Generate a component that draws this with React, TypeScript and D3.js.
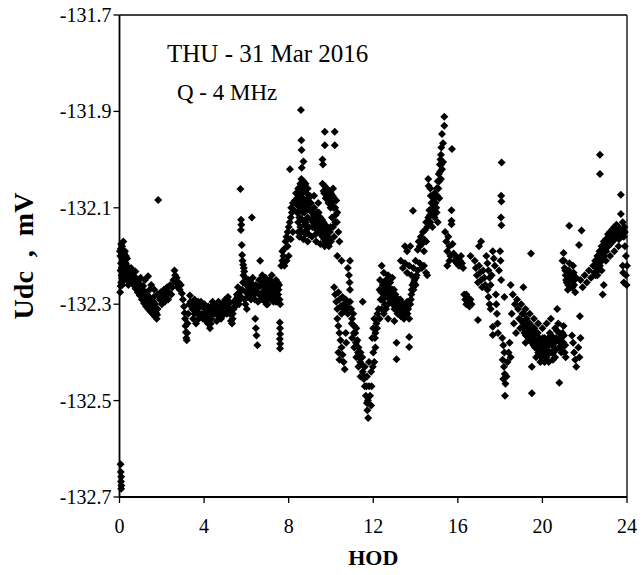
import React from 'react';
import * as d3 from 'd3';

type P = [number, number];

const xTicks = [0, 4, 8, 12, 16, 20, 24];
const yTicks = [-132.7, -132.5, -132.3, -132.1, -131.9, -131.7];
const titleText = 'THU - 31 Mar 2016';
const subtitleText = 'Q - 4 MHz';
const xLabel = 'HOD';
const yLabel = 'Udc  ,  mV';

// HOD, Udc (mV)
const midnight: P[] = [
  [0.05,-132.632],[0.06,-132.648],[0.08,-132.658],[0.07,-132.668],[0.09,-132.676],[0.08,-132.683],
  [0.03,-132.275],[0.05,-132.262],
  [0.06,-132.185],[0.08,-132.175],[0.1,-132.195],[0.12,-132.18],[0.14,-132.205],[0.16,-132.19],[0.18,-132.215],
  [0.2,-132.2],[0.22,-132.222],[0.24,-132.21],[0.26,-132.19],[0.28,-132.228],[0.3,-132.215],[0.32,-132.235],
  [0.35,-132.22],[0.38,-132.24],[0.4,-132.228],[0.43,-132.245],[0.46,-132.232],[0.5,-132.25],[0.53,-132.238],
  [0.56,-132.255],[0.1,-132.225],[0.12,-132.245],[0.15,-132.235],[0.2,-132.25],[0.08,-132.255],[0.25,-132.245],
  [0.3,-132.2],[0.18,-132.17],
  [0.04,-132.2],[0.07,-132.215],[0.1,-132.24],[0.13,-132.26],[0.16,-132.22],[0.19,-132.24],[0.22,-132.195],
  [0.27,-132.235],[0.33,-132.25],[0.36,-132.205],[0.42,-132.26],[0.48,-132.24],[0.55,-132.225],[0.05,-132.23],
  [0.02,-132.19]
];

const earlyBand: P[] = [
  [0.6,-132.235],[0.63,-132.25],[0.66,-132.26],[0.7,-132.242],[0.73,-132.255],[0.76,-132.268],[0.8,-132.248],
  [0.83,-132.262],[0.86,-132.275],[0.9,-132.255],[0.93,-132.27],[0.96,-132.282],[1.0,-132.262],[1.03,-132.278],
  [1.06,-132.29],[1.1,-132.27],[1.13,-132.285],[1.16,-132.298],[1.2,-132.275],[1.23,-132.292],[1.26,-132.305],
  [1.3,-132.28],[1.33,-132.297],[1.36,-132.31],[1.4,-132.285],[1.43,-132.3],[1.46,-132.315],[1.5,-132.29],
  [1.53,-132.305],[1.56,-132.32],[1.6,-132.295],[1.63,-132.31],[1.66,-132.325],[1.7,-132.3],[1.73,-132.318],
  [1.76,-132.33],[1.8,-132.31],
  [0.75,-132.232],[1.0,-132.245],[1.2,-132.25],[1.35,-132.242],[1.5,-132.26],[1.65,-132.27],[1.8,-132.28],
  [1.83,-132.084],
  [0.68,-132.245],[0.78,-132.258],[0.88,-132.265],[0.98,-132.272],[1.08,-132.28],[1.18,-132.288],[1.28,-132.295],
  [1.38,-132.3],[1.48,-132.305],[1.58,-132.31],[1.68,-132.315],[1.78,-132.322],[1.12,-132.262],[1.42,-132.27],
  [1.62,-132.285]
];

const predawn: P[] = [
  [1.9,-132.29],[1.95,-132.275],[2.0,-132.3],[2.05,-132.285],[2.1,-132.27],[2.15,-132.295],[2.2,-132.28],
  [2.25,-132.265],[2.3,-132.29],[2.35,-132.275],[2.4,-132.26],[2.45,-132.28],[2.5,-132.265],[2.55,-132.25],
  [2.6,-132.23],[2.63,-132.24],[2.66,-132.255],[2.7,-132.245],[2.75,-132.265],[2.8,-132.255],[2.85,-132.27],
  [2.9,-132.26],[2.95,-132.278],[3.0,-132.29],[3.05,-132.305],[3.08,-132.318],[3.1,-132.33],[3.12,-132.345],
  [3.14,-132.358],[3.16,-132.37],[3.18,-132.375],[3.2,-132.36],[3.22,-132.34],[3.25,-132.32],[3.3,-132.3],
  [3.33,-132.282],[3.36,-132.295]
];

const dawnBand: P[] = [
  [3.45,-132.31],[3.5,-132.3],[3.55,-132.32],[3.6,-132.3],[3.65,-132.315],[3.7,-132.31],[3.75,-132.33],
  [3.8,-132.305],[3.85,-132.295],[3.9,-132.3],[3.95,-132.33],[4.0,-132.32],[4.05,-132.31],[4.1,-132.335],
  [4.14,-132.32],[4.18,-132.34],[4.22,-132.33],[4.28,-132.35],[4.32,-132.34],[4.36,-132.32],[4.4,-132.31],
  [4.45,-132.3],[4.5,-132.31],[4.55,-132.32],[4.6,-132.3],[4.66,-132.31],[4.7,-132.325],[4.75,-132.315],
  [4.8,-132.33],[4.85,-132.325],[4.9,-132.3],[4.95,-132.295],[5.0,-132.29],[5.05,-132.305],[5.1,-132.3],
  [5.13,-132.285],[5.18,-132.31],[5.22,-132.32],[5.27,-132.335],[5.32,-132.34],[5.36,-132.32],[5.4,-132.31],
  [5.46,-132.305],[5.5,-132.29],[5.55,-132.28],[5.6,-132.265],[5.65,-132.3],[5.7,-132.29],[5.75,-132.285],
  [5.8,-132.27],[5.84,-132.255],[5.86,-132.24],[5.88,-132.225],
  [3.55,-132.29],[4.2,-132.305],[4.6,-132.335],[5.0,-132.315],[5.2,-132.295],[3.8,-132.325],[4.4,-132.295],
  [3.48,-132.33],[3.62,-132.34],[3.72,-132.295],[3.88,-132.32],[4.02,-132.3],[4.08,-132.325],[4.25,-132.315],
  [4.34,-132.33],[4.48,-132.32],[4.58,-132.31],[4.68,-132.295],[4.78,-132.305],[4.88,-132.315],[4.98,-132.305],
  [5.08,-132.32],[5.16,-132.3],[5.25,-132.31],[5.35,-132.33],[5.42,-132.295],[5.52,-132.3],[5.58,-132.285],
  [5.68,-132.275]
];

const sunrise: P[] = [
  [5.72,-132.061],[5.75,-132.125],[5.76,-132.135],[5.74,-132.146],[5.78,-132.177],[5.8,-132.198],[5.82,-132.21],
  [5.85,-132.218],[5.9,-132.232],[5.95,-132.245],[6.0,-132.26],[5.98,-132.275],[5.92,-132.29],[5.96,-132.3],
  [6.02,-132.31],[6.05,-132.285],[6.08,-132.27],
  [6.1,-132.25],[6.15,-132.265],[6.2,-132.28],[6.25,-132.26],[6.26,-132.12],[6.3,-132.245],[6.35,-132.27],
  [6.4,-132.29],[6.42,-132.33],[6.45,-132.35],[6.48,-132.365],[6.52,-132.385],[6.45,-132.26],[6.5,-132.275],
  [6.55,-132.295],[6.6,-132.28],[6.65,-132.21],[6.7,-132.26],[6.75,-132.275],[6.8,-132.29],[6.85,-132.265],
  [6.9,-132.28],[6.95,-132.3],[7.0,-132.27],[7.05,-132.285],[7.1,-132.26],[7.15,-132.275],[7.2,-132.29],
  [7.25,-132.255],[7.3,-132.27],[7.35,-132.285],[7.4,-132.25],[7.45,-132.265],[7.5,-132.28],[7.55,-132.26],
  [7.58,-132.338],[7.59,-132.35],[7.6,-132.362],[7.58,-132.372],[7.6,-132.382],[7.59,-132.392],[7.6,-132.3],
  [6.6,-132.25],[6.9,-132.245],[7.2,-132.24],[7.4,-132.295],[7.0,-132.3],[6.75,-132.24],
  [6.12,-132.28],[6.18,-132.255],[6.22,-132.29],[6.28,-132.275],[6.33,-132.26],[6.38,-132.28],[6.58,-132.265],
  [6.68,-132.29],[6.72,-132.25],[6.78,-132.285],[6.82,-132.255],[6.88,-132.295],[6.92,-132.265],[6.98,-132.255],
  [7.02,-132.29],[7.08,-132.275],[7.12,-132.25],[7.18,-132.265],[7.22,-132.28],[7.28,-132.295],[7.32,-132.26],
  [7.38,-132.275],[7.42,-132.285],[7.48,-132.255],[7.52,-132.27],[7.57,-132.29]
];

const morningRise: P[] = [
  [7.65,-132.22],[7.7,-132.21],[7.75,-132.2],[7.7,-132.19],[7.8,-132.185],[7.85,-132.17],[7.9,-132.16],
  [7.95,-132.15],[8.0,-132.14],[8.05,-132.13],[8.1,-132.12],[8.12,-132.1],[8.15,-132.11],[8.2,-132.09],
  [8.25,-132.105],[8.3,-132.085],[7.8,-132.22],[7.9,-132.21],[8.0,-132.2],[8.06,-132.02],[7.95,-132.18],
  [8.1,-132.165],[8.2,-132.15]
];

const morningPeak: P[] = [
  [8.58,-131.897],[8.6,-131.96],[8.61,-131.98],[8.7,-132.004],[8.62,-132.017],
  [8.35,-132.07],[8.4,-132.08],[8.45,-132.06],[8.5,-132.09],[8.55,-132.05],[8.6,-132.04],[8.65,-132.055],
  [8.7,-132.045],[8.75,-132.06],[8.8,-132.05],[8.85,-132.07],[8.9,-132.06],[8.95,-132.08],[9.0,-132.075],
  [8.4,-132.11],[8.45,-132.13],[8.5,-132.12],[8.55,-132.14],[8.6,-132.1],[8.65,-132.125],[8.7,-132.09],
  [8.75,-132.11],[8.8,-132.13],[8.85,-132.1],[8.9,-132.12],[8.95,-132.14],[9.0,-132.105],
  [8.5,-132.16],[8.6,-132.15],[8.7,-132.165],[8.8,-132.155],[8.9,-132.17],
  [8.42,-132.095],[8.48,-132.075],[8.52,-132.105],[8.58,-132.085],[8.62,-132.07],[8.68,-132.08],[8.72,-132.1],
  [8.78,-132.085],[8.82,-132.095],[8.88,-132.085],[8.92,-132.1],[8.98,-132.09],[8.55,-132.065],[8.65,-132.11],
  [8.75,-132.135],[8.85,-132.145],[8.95,-132.155],[8.45,-132.15]
];

const lateMorning: P[] = [
  [9.05,-132.09],[9.1,-132.11],[9.15,-132.13],[9.2,-132.1],[9.25,-132.12],[9.3,-132.145],[9.35,-132.11],
  [9.4,-132.13],[9.45,-132.15],[9.5,-132.12],[9.55,-132.14],[9.6,-132.16],[9.65,-132.13],[9.7,-132.15],
  [9.75,-132.17],[9.8,-132.14],[9.85,-132.16],[9.9,-132.18],[9.95,-132.15],[10.0,-132.17],
  [9.1,-132.16],[9.3,-132.17],[9.5,-132.175],[9.7,-132.18],[9.2,-132.075],[9.4,-132.09],
  [9.6,-132.0],[9.62,-132.01],[9.6,-132.05],[9.65,-132.065],[9.7,-132.055],[9.75,-132.08],[9.8,-132.06],
  [9.85,-132.075],[9.9,-132.065],[9.95,-132.085],[10.0,-132.07],[10.05,-132.09],[10.1,-132.06],[10.15,-132.08],
  [10.2,-132.1],[10.25,-132.085],[10.3,-132.11],
  [9.71,-131.942],[10.18,-131.942],[9.71,-131.97],[10.18,-131.97],
  [10.05,-132.12],[10.1,-132.14],[10.15,-132.16],[10.2,-132.13],[10.3,-132.2],[10.35,-132.15],[10.4,-132.17],
  [9.08,-132.125],[9.12,-132.14],[9.18,-132.115],[9.22,-132.135],[9.28,-132.155],[9.32,-132.125],[9.38,-132.145],
  [9.42,-132.11],[9.48,-132.135],[9.52,-132.155],[9.58,-132.125],[9.62,-132.145],[9.68,-132.165],[9.72,-132.135],
  [9.78,-132.155],[9.82,-132.17],[9.88,-132.145],[9.92,-132.165],[9.98,-132.14],[9.68,-132.07],[9.78,-132.07],
  [9.88,-132.09],[9.98,-132.1],[10.08,-132.075],[10.12,-132.1],[10.22,-132.115],[10.28,-132.13]
];

const noonDip: P[] = [
  [10.5,-132.21],[10.9,-132.21],[10.8,-132.225],[10.85,-132.24],[10.88,-132.255],[10.9,-132.27],
  [10.15,-132.265],[10.2,-132.28],[10.25,-132.295],[10.3,-132.31],[10.35,-132.275],[10.4,-132.29],
  [10.45,-132.305],[10.5,-132.32],[10.55,-132.285],[10.6,-132.3],[10.65,-132.315],[10.7,-132.29],
  [10.75,-132.305],[10.8,-132.32],
  [10.3,-132.33],[10.35,-132.345],[10.4,-132.36],[10.45,-132.375],[10.5,-132.39],[10.55,-132.405],
  [10.6,-132.42],[10.65,-132.435],[10.35,-132.4],[10.4,-132.415],[10.7,-132.36],[10.72,-132.38],
  [10.9,-132.295],[10.95,-132.31],[11.0,-132.33],[11.05,-132.32],[11.1,-132.345],[11.15,-132.36],[11.2,-132.35],
  [11.25,-132.375],[11.3,-132.39],[11.35,-132.41],[11.4,-132.4],[11.45,-132.425],[11.5,-132.44],[11.5,-132.295],
  [11.55,-132.455],[11.6,-132.47],[11.65,-132.49],[11.7,-132.505],[11.72,-132.52],[11.76,-132.536],
  [11.0,-132.37],[11.1,-132.39],[11.2,-132.41],[11.3,-132.43],[11.4,-132.45],[11.6,-132.43],[11.7,-132.45],
  [11.8,-132.47],[11.85,-132.49],[11.9,-132.51],[11.8,-132.42],[11.9,-132.44],[12.0,-132.4],[12.05,-132.42],
  [12.1,-132.39],[11.95,-132.37],[12.0,-132.35],[12.05,-132.33],[12.1,-132.36],[12.15,-132.34],[12.2,-132.32],
  [12.25,-132.31],[12.3,-132.33],
  [10.98,-132.34],[11.08,-132.36],[11.18,-132.38],[11.28,-132.4],[11.38,-132.42],[11.48,-132.41],[11.58,-132.45],
  [11.68,-132.47],[11.75,-132.5],[11.92,-132.47],[11.98,-132.43],[12.08,-132.37],[12.18,-132.35],[10.58,-132.31],
  [10.68,-132.3],[10.78,-132.31]
];

const afternoon: P[] = [
  [12.3,-132.27],[12.35,-132.29],[12.4,-132.31],[12.45,-132.26],[12.5,-132.28],[12.55,-132.3],[12.6,-132.27],
  [12.65,-132.285],[12.7,-132.3],[12.75,-132.265],[12.8,-132.28],[12.85,-132.295],[12.9,-132.27],[12.95,-132.29],
  [13.0,-132.31],[13.05,-132.28],[13.1,-132.3],[13.15,-132.32],[13.2,-132.29],[13.25,-132.305],[13.3,-132.325],
  [13.35,-132.3],[13.4,-132.315],[13.45,-132.33],[13.5,-132.3],[13.55,-132.32],[13.6,-132.295],[13.65,-132.31],
  [13.7,-132.33],[13.75,-132.3],[13.8,-132.28],[13.85,-132.26],[13.9,-132.27],[13.95,-132.25],[14.0,-132.26],
  [14.05,-132.24],
  [12.4,-132.22],[12.5,-132.235],[12.6,-132.25],[12.7,-132.24],[12.8,-132.255],[12.9,-132.245],[12.5,-132.32],
  [12.7,-132.33],[13.0,-132.335],[12.6,-132.31],
  [13.1,-132.38],[13.1,-132.414],[13.7,-132.368],[13.7,-132.389],
  [13.3,-132.21],[13.4,-132.225],[13.5,-132.215],[13.6,-132.235],[13.7,-132.22],[13.8,-132.24],[13.9,-132.225],
  [14.0,-132.21],[14.1,-132.23],[14.2,-132.215],[14.3,-132.225],[14.4,-132.22],[14.5,-132.235],[14.55,-132.24],
  [13.88,-132.106],[13.5,-132.18],[13.6,-132.19],[13.75,-132.18],
  [12.32,-132.25],[12.38,-132.275],[12.42,-132.29],[12.48,-132.255],[12.52,-132.27],[12.58,-132.285],[12.62,-132.26],
  [12.68,-132.275],[12.72,-132.285],[12.78,-132.27],[12.82,-132.29],[12.88,-132.28],[12.92,-132.3],[12.98,-132.27],
  [13.02,-132.295],[13.08,-132.31],[13.12,-132.29],[13.18,-132.305],[13.22,-132.315],[13.28,-132.29],[13.32,-132.31],
  [13.38,-132.32],[13.42,-132.3],[13.48,-132.315],[13.58,-132.305],[13.62,-132.32],[13.68,-132.3],[13.78,-132.29],
  [13.82,-132.27],[13.92,-132.255],[14.02,-132.245]
];

const eveningRise: P[] = [
  [14.1,-132.187],[14.15,-132.17],[14.2,-132.18],[14.25,-132.16],[14.3,-132.175],[14.35,-132.15],[14.4,-132.165],
  [14.45,-132.146],[14.5,-132.13],[14.55,-132.14],[14.6,-132.12],[14.65,-132.105],[14.6,-132.04],[14.62,-132.055],
  [14.7,-132.06],[14.75,-132.09],[14.8,-132.1],[14.85,-132.08],[14.9,-132.07],[14.95,-132.09],[15.0,-132.06],
  [15.05,-132.045],[15.1,-132.03],[15.15,-132.01],[15.18,-132.0],[15.2,-131.99],[15.22,-131.975],[15.25,-131.947],
  [15.3,-131.966],[15.36,-131.93],[15.36,-131.911],[15.72,-131.978],
  [14.7,-132.13],[14.8,-132.14],[14.9,-132.12],[15.0,-132.11],[15.05,-132.13],[14.5,-132.17],[14.4,-132.19],
  [15.2,-132.04],[15.25,-132.02],[15.3,-132.005],
  [14.58,-132.13],[14.68,-132.115],[14.72,-132.075],[14.78,-132.115],[14.82,-132.09],[14.88,-132.105],[14.92,-132.08],
  [14.98,-132.1],[15.02,-132.075],[15.08,-132.06],[15.12,-132.045],[15.16,-132.025],[15.12,-132.08],[15.22,-132.01]
];

const dusk: P[] = [
  [15.4,-132.15],[15.45,-132.17],[15.5,-132.19],[15.55,-132.16],[15.6,-132.18],[15.65,-132.2],[15.7,-132.105],
  [15.7,-132.127],[15.7,-132.134],[15.75,-132.175],[15.8,-132.195],[15.85,-132.21],[15.9,-132.2],[15.95,-132.215],
  [16.0,-132.205],[16.05,-132.22],[16.1,-132.21],[16.15,-132.2],[16.2,-132.215],[16.25,-132.225],[15.6,-132.21],
  [15.5,-132.22],
  [16.3,-132.28],[16.35,-132.29],[16.4,-132.3],[16.45,-132.285],[16.5,-132.295],[16.55,-132.305],[16.6,-132.29],
  [16.65,-132.3],[16.4,-132.28],[16.6,-132.2],[16.95,-132.333],
  [16.8,-132.21],[16.85,-132.225],[16.9,-132.24],[16.95,-132.255],[17.0,-132.22],[17.05,-132.235],[17.1,-132.25],
  [17.15,-132.265],[17.2,-132.23],[17.25,-132.245],[17.3,-132.26],[17.35,-132.2],[17.4,-132.215],[17.45,-132.23],
  [17.5,-132.245],[17.55,-132.26],[17.6,-132.24],[17.65,-132.19],[17.7,-132.205],[17.75,-132.22],[17.0,-132.18],
  [17.1,-132.17],
  [17.4,-132.27],[17.45,-132.285],[17.5,-132.3],[17.55,-132.31],[17.65,-132.347],[17.65,-132.364],[17.8,-132.28],
  [17.82,-132.3],[17.85,-132.32],[17.88,-132.34],[17.9,-132.36]
];

const earlyNight: P[] = [
  [18.07,-132.006],[18.05,-132.075],[18.06,-132.087],[18.04,-132.12],[18.06,-132.136],[18.0,-132.19],
  [18.02,-132.21],[17.95,-132.23],[18.05,-132.25],[18.2,-132.285],
  [18.1,-132.37],[18.15,-132.385],[18.2,-132.4],[18.12,-132.415],[18.18,-132.43],[18.22,-132.445],
  [18.15,-132.455],[18.25,-132.465],[18.3,-132.45],[18.23,-132.49],[18.35,-132.42],[18.4,-132.4],
  [18.45,-132.38],[18.5,-132.41]
];

const nightCloud: P[] = [
  [18.5,-132.26],[18.6,-132.28],[18.7,-132.3],[18.55,-132.32],[18.65,-132.34],[18.75,-132.36],[18.8,-132.29],
  [18.85,-132.31],[18.9,-132.33],[18.95,-132.35],[19.0,-132.3],[19.05,-132.32],[19.1,-132.265],[19.1,-132.34],
  [19.15,-132.36],[19.2,-132.38],[19.25,-132.33],[19.3,-132.35],[19.35,-132.37],[19.4,-132.34],[19.46,-132.195],
  [19.45,-132.36],[19.5,-132.38],[19.5,-132.43],[19.5,-132.485],[19.55,-132.355],[19.6,-132.37],[19.65,-132.39],
  [19.7,-132.36],[19.75,-132.38],[19.8,-132.4],[19.85,-132.37],[19.9,-132.39],[19.95,-132.41],[20.0,-132.38],
  [20.05,-132.4],[20.1,-132.37],[20.15,-132.39],[20.2,-132.41],[20.25,-132.38],[20.3,-132.4],[20.35,-132.36],
  [20.4,-132.38],[20.45,-132.4],[20.5,-132.37],[20.55,-132.39],[20.6,-132.35],[20.65,-132.37],[20.7,-132.31],
  [20.75,-132.34],[20.8,-132.36],[20.8,-132.463],[20.85,-132.38],[20.9,-132.4],[20.95,-132.36],[21.0,-132.38],
  [21.05,-132.4],[21.1,-132.41],
  [19.2,-132.31],[19.4,-132.32],[19.6,-132.33],[19.8,-132.34],[20.0,-132.35],[20.2,-132.34],[20.4,-132.33],
  [19.9,-132.42],[20.1,-132.42],[20.3,-132.42],[20.5,-132.415],[19.7,-132.41],[20.6,-132.41],[21.0,-132.345],
  [19.02,-132.335],[19.08,-132.35],[19.12,-132.32],[19.18,-132.345],[19.22,-132.365],[19.28,-132.34],[19.32,-132.36],
  [19.38,-132.355],[19.42,-132.375],[19.48,-132.345],[19.52,-132.365],[19.58,-132.385],[19.62,-132.35],[19.68,-132.375],
  [19.72,-132.39],[19.78,-132.36],[19.82,-132.385],[19.88,-132.4],[19.92,-132.375],[19.98,-132.395],[20.02,-132.37],
  [20.08,-132.385],[20.12,-132.405],[20.18,-132.375],[20.22,-132.395],[20.28,-132.37],[20.32,-132.385],[20.38,-132.4],
  [20.42,-132.365],[20.48,-132.385],[20.52,-132.4],[20.58,-132.38],[20.62,-132.395],[20.68,-132.355],[20.72,-132.375],
  [20.78,-132.39],[20.88,-132.37],[20.92,-132.39],[21.02,-132.365],[21.08,-132.385]
];

const lateNight: P[] = [
  [21.0,-132.194],[20.95,-132.21],[21.05,-132.225],[21.1,-132.24],[21.15,-132.255],[21.2,-132.27],[21.25,-132.23],
  [21.3,-132.25],[21.27,-132.137],[21.35,-132.265],[21.4,-132.24],[21.45,-132.22],[21.5,-132.26],[21.55,-132.275],
  [21.6,-132.245],[21.73,-132.177],[21.85,-132.147],[21.77,-132.325],
  [21.4,-132.365],[21.45,-132.38],[21.5,-132.4],[21.55,-132.415],[21.6,-132.43],[21.7,-132.39],[21.75,-132.41],
  [21.8,-132.37],
  [21.8,-132.25],[21.9,-132.265],[22.0,-132.24],[22.1,-132.255],[22.2,-132.23],[22.3,-132.245],[22.4,-132.22],
  [21.02,-132.21],[21.08,-132.23],[21.12,-132.25],[21.18,-132.24],[21.22,-132.26],[21.28,-132.215],[21.32,-132.235],
  [21.38,-132.25],[21.42,-132.265],[21.48,-132.235],[21.52,-132.25]
];

const midnightRise: P[] = [
  [22.45,-132.235],[22.5,-132.21],[22.55,-132.225],[22.6,-132.2],[22.65,-132.215],[22.72,-131.99],[22.72,-132.03],
  [22.7,-132.19],[22.75,-132.205],[22.8,-132.18],[22.85,-132.195],[22.9,-132.17],[22.95,-132.185],[23.0,-132.165],
  [23.05,-132.18],[23.1,-132.155],[23.15,-132.17],[23.2,-132.15],[23.25,-132.165],[23.3,-132.145],[23.35,-132.16],
  [23.4,-132.14],[23.45,-132.155],[23.5,-132.135],[23.55,-132.15],[23.6,-132.14],[23.65,-132.155],[23.71,-132.073],
  [23.71,-132.113],[23.75,-132.145],[23.8,-132.13],[23.85,-132.16],[23.9,-132.15],
  [22.6,-132.24],[22.8,-132.23],[23.0,-132.21],[23.2,-132.2],[23.4,-132.19],[23.6,-132.18],[22.85,-132.28],
  [22.9,-132.26],
  [23.8,-132.22],[23.82,-132.235],[23.85,-132.255],[23.9,-132.18],[23.95,-132.2],[24.0,-132.22],[23.95,-132.24],
  [23.98,-132.26],
  [22.48,-132.22],[22.52,-132.24],[22.58,-132.215],[22.62,-132.23],[22.68,-132.205],[22.72,-132.22],[22.78,-132.195],
  [22.82,-132.21],[22.88,-132.185],[22.92,-132.2],[22.98,-132.175],[23.02,-132.19],[23.08,-132.165],[23.12,-132.18],
  [23.18,-132.16],[23.22,-132.175],[23.28,-132.155],[23.32,-132.17],[23.38,-132.15],[23.42,-132.165],[23.48,-132.145],
  [23.52,-132.16],[23.58,-132.15],[23.62,-132.165],[23.68,-132.145],[23.78,-132.155],[23.88,-132.14]
];

const allPoints: P[] = [
  ...midnight, ...earlyBand, ...predawn, ...dawnBand, ...sunrise, ...morningRise, ...morningPeak,
  ...lateMorning, ...noonDip, ...afternoon, ...eveningRise, ...dusk, ...earlyNight, ...nightCloud,
  ...lateNight, ...midnightRise
];

const FONT = "'Liberation Serif', 'Times New Roman', Times, serif";

export default function App() {
  const W = 642, H = 575;
  const left = 119.5, right = 627, top = 15, bottom = 497;
  const x = d3.scaleLinear().domain([0, 24]).range([left, right]);
  const y = d3.scaleLinear().domain([-132.7, -131.7]).range([bottom, top]);
  const marker = d3.symbol(d3.symbolSquare, 32)() || '';

  return (
    <svg width={W} height={H} style={{ position: 'absolute', left: 0, top: 0, background: '#fff' }}
      fontFamily={FONT}>
      <rect x={0} y={0} width={W} height={H} fill="#fff" />
      <line x1={left} x2={right} y1={top} y2={top} stroke="#000" strokeWidth={1.3} />
      <line x1={right} x2={right} y1={top} y2={bottom} stroke="#222" strokeWidth={1.5} />
      <line x1={left} x2={left} y1={top} y2={bottom} stroke="#000" strokeWidth={1.8} />
      <line x1={left} x2={right} y1={bottom} y2={bottom} stroke="#000" strokeWidth={1.8} />
      {yTicks.map(t => (
        <g key={'y' + t}>
          <line x1={left - 6} x2={left} y1={y(t)} y2={y(t)} stroke="#000" strokeWidth={1.3} />
          <text x={left - 8} y={y(t)} dy="0.35em" textAnchor="end" fontSize={20} fill="#000">
            {t.toFixed(1)}
          </text>
        </g>
      ))}
      {xTicks.map(t => (
        <g key={'x' + t}>
          <line x1={x(t)} x2={x(t)} y1={bottom} y2={bottom + 6} stroke="#000" strokeWidth={1.3} />
          <text x={x(t)} y={bottom + 36} textAnchor="middle" fontSize={20} fill="#000">{t}</text>
        </g>
      ))}
      <g fill="#000">
        {allPoints.map((p, i) => (
          <path key={i} d={marker} transform={`translate(${x(p[0])},${y(p[1])}) rotate(45)`} />
        ))}
      </g>
      <text x={167} y={62} fontSize={25} fill="#000">{titleText}</text>
      <text x={177} y={100} fontSize={23} fill="#000">{subtitleText}</text>
      <text x={(left + right) / 2} y={565} textAnchor="middle" fontSize={22} fontWeight="bold" fill="#000">
        {xLabel}
      </text>
      <text transform={`translate(33,${(top + bottom) / 2}) rotate(-90)`} textAnchor="middle" fontSize={28}
        fontWeight="bold" fill="#000" style={{ whiteSpace: 'pre' }}>
        {yLabel}
      </text>
    </svg>
  );
}
